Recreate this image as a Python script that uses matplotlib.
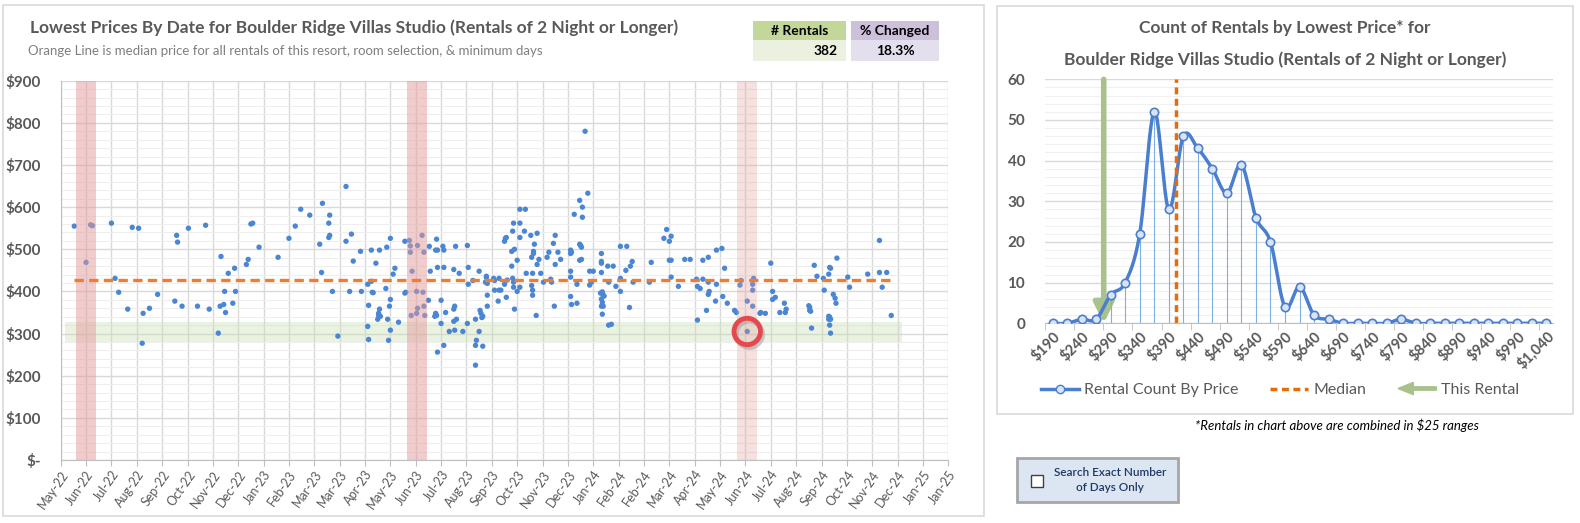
import matplotlib.pyplot as plt
import matplotlib.dates as mdates
import matplotlib.patches as mpatches
import matplotlib.transforms as mtransforms
from matplotlib.lines import Line2D
from matplotlib.legend_handler import HandlerPatch
import numpy as np
import pandas as pd

plt.rcParams['font.family'] = ['Lato', 'DejaVu Sans']

# ---- scatter: lowest price by check-in date ----
rental_dates = [
    '2022-06-10', '2022-06-30', '2022-06-28', '2022-06-23', '2022-07-21', '2022-07-25', '2022-07-29',
    '2022-08-08', '2022-08-13', '2022-08-20', '2022-08-25', '2022-09-01', '2022-08-24', '2022-09-10',
    '2022-09-29', '2022-10-01', '2022-10-02', '2022-10-07', '2022-10-14', '2022-10-24', '2022-11-02',
    '2022-11-06', '2022-11-16', '2022-11-18', '2022-11-19', '2022-11-23', '2022-11-22', '2022-11-24',
    '2022-11-27', '2022-12-02', '2022-12-04', '2022-12-05', '2022-12-17', '2022-12-19', '2022-12-22',
    '2022-12-24', '2022-12-31', '2023-01-21', '2023-02-02', '2023-02-09', '2023-02-15', '2023-02-25',
    '2023-03-11', '2023-04-06', '2023-03-19', '2023-03-18', '2023-03-19', '2023-03-18', '2023-03-08',
    '2023-03-10', '2023-03-22', '2023-03-28', '2023-04-06', '2023-04-12', '2023-04-14', '2023-04-10',
    '2023-04-22', '2023-04-23', '2023-04-30', '2023-05-04', '2023-05-01', '2023-04-30', '2023-05-01',
    '2023-05-04', '2023-05-05', '2023-05-06', '2023-05-09', '2023-05-13', '2023-05-13', '2023-05-12',
    '2023-05-12', '2023-05-14', '2023-05-11', '2023-05-22', '2023-05-20', '2023-05-21', '2023-05-25',
    '2023-05-25', '2023-05-24', '2023-05-25', '2023-05-23', '2023-05-28', '2023-05-30', '2023-06-03',
    '2023-06-10', '2023-06-10', '2023-06-11', '2023-06-15', '2023-06-16', '2023-06-16', '2023-06-18',
    '2023-06-24', '2023-06-29', '2023-07-01', '2023-06-23', '2023-06-30', '2023-06-24', '2023-06-23',
    '2023-06-17', '2023-07-01', '2023-07-02', '2023-07-07', '2023-07-08', '2023-07-06', '2023-07-15',
    '2023-07-14', '2023-07-16', '2023-07-16', '2023-07-23', '2023-07-22', '2023-07-23', '2023-07-20',
    '2023-07-14', '2023-07-15', '2023-07-13', '2023-07-20', '2023-07-16', '2023-07-23', '2023-07-25',
    '2023-07-29', '2023-08-03', '2023-08-05', '2023-08-09', '2023-08-03', '2023-08-04', '2023-08-03',
    '2023-08-06', '2023-08-04', '2023-08-13', '2023-08-18', '2023-08-19', '2023-08-18', '2023-08-24',
    '2023-08-19', '2023-08-31', '2023-08-27', '2023-08-31', '2023-08-28', '2023-08-27', '2023-09-04',
    '2023-08-27', '2023-09-01', '2023-09-02', '2023-09-04', '2023-09-03', '2023-09-08', '2023-09-08',
    '2023-09-07', '2023-09-09', '2023-09-16', '2023-09-17', '2023-09-09', '2023-09-09', '2023-09-17',
    '2023-09-21', '2023-09-22', '2023-09-22', '2023-09-24', '2023-09-28', '2023-09-30', '2023-10-01',
    '2023-10-07', '2023-10-08', '2023-10-06', '2023-10-08', '2023-10-09', '2023-10-12', '2023-10-12',
    '2023-10-15', '2023-10-06', '2023-10-09', '2023-10-07', '2023-10-08', '2023-09-28', '2023-09-29',
    '2023-09-30', '2023-10-15', '2023-10-21', '2023-10-15', '2023-10-15', '2023-10-20', '2023-10-27',
    '2023-11-03', '2023-10-31', '2023-10-30', '2023-10-30', '2023-10-28', '2023-11-05', '2023-11-03',
    '2023-10-22', '2023-10-29', '2023-11-07', '2023-10-28', '2023-10-29', '2023-10-29', '2023-11-02',
    '2023-11-10', '2023-11-14', '2023-11-16', '2023-11-18', '2023-11-19', '2023-11-21', '2023-11-23',
    '2023-11-23', '2023-11-26', '2023-11-29', '2023-11-22', '2023-12-10', '2023-12-10', '2023-12-11',
    '2023-12-10', '2023-12-10', '2023-12-10', '2023-12-11', '2023-12-17', '2023-12-17', '2023-12-14',
    '2023-12-20', '2023-12-23', '2023-12-23', '2023-12-29', '2023-12-26', '2023-12-20', '2023-12-21',
    '2023-12-22', '2023-12-20', '2023-12-22', '2023-12-31', '2024-01-04', '2024-01-02', '2023-12-31',
    '2024-01-13', '2024-01-13', '2024-01-13', '2024-01-13', '2024-01-12', '2024-01-14', '2024-01-15',
    '2024-01-16', '2024-01-13', '2024-01-14', '2024-01-13', '2024-01-15', '2024-01-14', '2024-01-21',
    '2024-01-24', '2024-01-20', '2024-01-26', '2024-01-21', '2024-01-29', '2024-02-03', '2024-02-10',
    '2024-02-03', '2024-02-03', '2024-02-09', '2024-02-14', '2024-02-16', '2024-02-17', '2024-02-13',
    '2024-03-06', '2024-03-08', '2024-03-22', '2024-03-25', '2024-03-28', '2024-03-30', '2024-03-28',
    '2024-03-30', '2024-03-30', '2024-04-07', '2024-04-14', '2024-04-20', '2024-04-27', '2024-04-28',
    '2024-05-01', '2024-05-04', '2024-05-04', '2024-05-10', '2024-05-10', '2024-05-11', '2024-05-10',
    '2024-05-08', '2024-04-28', '2024-05-19', '2024-05-25', '2024-05-19', '2024-05-28', '2024-05-26',
    '2024-05-18', '2024-05-31', '2024-06-08', '2024-06-10', '2024-06-15', '2024-06-14', '2024-06-29',
    '2024-06-28', '2024-06-28', '2024-06-22', '2024-06-28', '2024-06-22', '2024-07-06', '2024-07-07',
    '2024-07-12', '2024-07-18', '2024-07-20', '2024-07-20', '2024-07-23', '2024-07-28', '2024-08-02',
    '2024-08-04', '2024-08-03', '2024-08-30', '2024-08-30', '2024-08-31', '2024-08-29', '2024-09-01',
    '2024-09-04', '2024-09-07', '2024-09-14', '2024-09-15', '2024-09-20', '2024-09-21', '2024-09-22',
    '2024-09-29', '2024-09-25', '2024-09-27', '2024-09-28', '2024-09-20', '2024-09-21', '2024-09-20',
    '2024-09-22', '2024-09-21', '2024-09-22', '2024-10-11', '2024-10-13', '2024-11-02', '2024-11-15',
    '2024-11-15', '2024-11-18', '2024-11-23', '2024-11-28',
]
rental_prices = [
    555, 556, 558, 469, 562, 431, 398,
    358, 552, 550, 348, 360, 277, 393,
    377, 533, 517, 365, 550, 365, 557,
    358, 301, 365, 483, 400, 369, 350,
    443, 372, 455, 400, 464, 476, 560,
    562, 505, 481, 526, 555, 595, 581,
    609, 649, 581, 562, 533, 528, 512,
    445, 400, 294, 519, 536, 472, 400,
    495, 400, 417, 424, 367, 317, 286,
    498, 398, 397, 467, 498, 358, 348,
    343, 341, 334, 334, 407, 505, 526,
    381, 365, 308, 284, 441, 455, 327,
    519, 396, 398, 521, 508, 493, 448,
    509, 533, 493, 400, 398, 360, 348,
    343, 365, 343, 507, 448, 379, 524,
    498, 498, 457, 457, 507, 498, 379,
    348, 343, 341, 324, 256, 272, 350,
    305, 452, 507, 443, 358, 365, 329,
    334, 308, 305, 509, 457, 324, 426,
    417, 448, 334, 305, 284, 272, 270,
    225, 355, 348, 341, 338, 436, 433,
    422, 419, 431, 426, 391, 365, 403,
    377, 403, 431, 403, 417, 386, 427,
    431, 422, 460, 410, 358, 474, 400,
    410, 495, 500, 543, 562, 519, 526,
    528, 595, 595, 562, 528, 543, 533,
    538, 512, 495, 490, 481, 476, 464,
    443, 443, 443, 414, 403, 391, 343,
    422, 481, 493, 429, 422, 514, 533,
    464, 493, 476, 365, 498, 490, 493,
    448, 434, 388, 369, 372, 417, 583,
    616, 600, 576, 633, 780, 512, 509,
    505, 474, 476, 448, 448, 422, 415,
    490, 471, 467, 445, 396, 399, 392,
    389, 382, 374, 365, 365, 346, 320,
    322, 460, 460, 422, 412, 507, 507,
    431, 400, 450, 460, 471, 422, 362,
    422, 469, 526, 547, 519, 531, 474,
    474, 434, 412, 476, 476, 429, 412,
    407, 474, 429, 481, 422, 400, 393,
    355, 332, 498, 502, 417, 455, 388,
    377, 372, 355, 350, 426, 415, 431,
    417, 403, 377, 365, 305, 348, 350,
    348, 467, 400, 381, 386, 350, 372,
    358, 350, 362, 355, 353, 366, 313,
    462, 436, 431, 403, 441, 457, 455,
    479, 393, 384, 372, 341, 339, 334,
    334, 320, 301, 434, 410, 441, 521,
    445, 410, 445, 343,
]

median_price = 428
this_rental_date = '2024-06-22'
this_rental_price = 305
price_band = (280, 327)
same_dates_start = ['2022-06-12', '2023-06-12', '2024-06-11']
same_dates_end = ['2022-07-04', '2023-07-04', '2024-07-03']
rental_count = '382'
pct_changed = '18.3%'

# ---- histogram: count of rentals per $25 price range ----
bin_prices = [190, 215, 240, 265, 290, 315, 340, 365, 390, 415, 440, 465,
              490, 515, 540, 565, 590, 615, 640, 665, 690, 715, 740, 765,
              790, 815, 840, 865, 890, 915, 940, 965, 990, 1015, 1040]
bin_counts = [0, 0, 1, 1, 7, 10, 22, 52, 28, 46, 43, 38,
              32, 39, 26, 20, 4, 9, 2, 1, 0, 0, 0, 0,
              1, 0, 0, 0, 0, 0, 0, 0, 0, 0, 0]
bin_width = 25

W, H = 1580, 523
fig = plt.figure(figsize=(W / 100, H / 100), dpi=100)
fig.patch.set_facecolor('white')


def fx(x):
    return x / W


def fy(y):
    return 1 - y / H


def frame(x0, y0, x1, y1, **kw):
    r = mpatches.Rectangle((fx(x0), fy(y1)), fx(x1) - fx(x0), fy(y0) - fy(y1),
                           transform=fig.transFigure, **kw)
    fig.patches.append(r)


GRAY = '#595959'
BLUE = '#4a86d4'

# panels
frame(3, 5, 984, 516, fill=False, ec='#d9d9d9', lw=1.2)
frame(997, 6, 1573, 414, fill=False, ec='#d9d9d9', lw=1.2)

# ================= left chart =================
dates = pd.to_datetime(rental_dates)
ax1 = fig.add_axes([fx(60.7), fy(460), fx(948.3) - fx(60.7), fy(80.7) - fy(460)])
ax1.set_facecolor('none')

ticks = pd.date_range('2022-05-26', periods=36, freq='28D')
ax1.set_xlim(ticks[0], ticks[-1])
ax1.set_ylim(0, 900)
ax1.set_xticks(ticks)
ax1.xaxis.set_major_formatter(mdates.DateFormatter('%b-%y'))
ax1.set_yticks(np.arange(0, 901, 100))
ax1.set_yticks(np.arange(0, 901, 20), minor=True)
ax1.set_yticklabels(['$-' if v == 0 else f'${v}' for v in range(0, 901, 100)])
ax1.grid(which='major', color='#d9d9d9', lw=1, zorder=0)
ax1.grid(which='minor', axis='y', color='#eeeeee', lw=0.8, zorder=0)
ax1.set_axisbelow(True)
for s in ['top', 'right']:
    ax1.spines[s].set_visible(False)
for s in ['left', 'bottom']:
    ax1.spines[s].set_color('#bfbfbf')
ax1.tick_params(axis='y', which='both', length=0, pad=14, labelsize=11, labelcolor=GRAY)
ax1.tick_params(axis='x', length=4, color='#bfbfbf', labelsize=9, labelcolor=GRAY, pad=2)
for lab in ax1.get_yticklabels():
    lab.set_fontweight('bold')
plt.setp(ax1.get_xticklabels(), rotation=55, ha='right', rotation_mode='anchor')

first, last = dates.min(), dates.max()
ax1.fill_between([first - pd.Timedelta(days=10), last + pd.Timedelta(days=12)],
                 price_band[0], price_band[1], color='#c5dcae', alpha=0.35, lw=0, zorder=1)
ax1.scatter(dates, rental_prices, s=15, color=BLUE, edgecolors='none', zorder=3)
ax1.plot([first, last], [median_price, median_price], color='#ed7d31', lw=2.4,
         ls=(0, (2.8, 1.6)), zorder=5)
for i, (a, b) in enumerate(zip(same_dates_start, same_dates_end)):
    ax1.axvspan(pd.Timestamp(a), pd.Timestamp(b), color='#e39b9b',
                alpha=0.5 if i < 2 else 0.3, lw=0, zorder=4)

tr = pd.Timestamp(this_rental_date)
shadow = mtransforms.offset_copy(ax1.transData, fig=fig, x=1.5, y=-2, units='points')
ax1.scatter([tr], [this_rental_price], s=360, facecolors='none', edgecolors='#999999',
            linewidths=3.5, alpha=0.5, transform=shadow, zorder=6)
ax1.scatter([tr], [this_rental_price], s=360, facecolors='none', edgecolors='#e5484d',
            linewidths=3.5, zorder=7)

fig.text(fx(30), fy(28), 'Lowest Prices By Date for Boulder Ridge Villas Studio '
         '(Rentals of 2 Night or Longer)', fontsize=12.5, fontweight='bold', color=GRAY,
         va='center')
fig.text(fx(28), fy(51), 'Orange Line is median price for all rentals of this resort, '
         'room selection, & minimum days', fontsize=9.5, color='#7f7f7f', va='center')

# summary boxes
frame(753, 21, 846, 40, color='#c4d79b', lw=0)
frame(753, 40, 846, 61, color='#ebf1de', lw=0)
frame(851, 21, 939, 40, color='#ccc0da', lw=0)
frame(851, 40, 939, 61, color='#e4dfec', lw=0)
fig.text(fx(799.5), fy(31), '# Rentals', ha='center', va='center', fontsize=10,
         fontweight='bold', color='black')
fig.text(fx(895), fy(31), '% Changed', ha='center', va='center', fontsize=10,
         fontweight='bold', color='black')
fig.text(fx(838), fy(51), rental_count, ha='right', va='center', fontsize=10,
         fontweight='bold', color='black')
fig.text(fx(895), fy(51), pct_changed, ha='center', va='center', fontsize=10,
         fontweight='bold', color='black')

# ================= right chart =================
ax2 = fig.add_axes([fx(1044.6), fy(323.3), fx(1553) - fx(1044.6), fy(79.3) - fy(323.3)])
ax2.set_facecolor('none')
idx = np.arange(len(bin_prices))
counts = np.array(bin_counts, dtype=float)


def smooth(xs, ys, sx, sy, n=24):
    # Excel-style smoothed line (Catmull-Rom bezier) in screen proportions
    p = np.column_stack([xs * sx, ys * sy])
    out = [p[0]]
    t = np.linspace(0, 1, n)[1:, None]
    for i in range(len(p) - 1):
        p0 = p[max(i - 1, 0)]
        p1, p2 = p[i], p[i + 1]
        p3 = p[min(i + 2, len(p) - 1)]
        c1 = p1 + (p2 - p0) / 6
        c2 = p2 - (p3 - p1) / 6
        seg = ((1 - t) ** 3) * p1 + 3 * ((1 - t) ** 2) * t * c1 + 3 * (1 - t) * t ** 2 * c2 + t ** 3 * p2
        out.extend(seg)
    out = np.array(out)
    return out[:, 0] / sx, out[:, 1] / sy


LINE = '#4a7fcf'
sx_, sy_ = smooth(idx.astype(float), counts, 14.53, 244 / 60)
ax2.vlines(idx, 0, counts, color='#7fb0e3', lw=0.8, zorder=3)
ax2.plot(sx_, sy_, color=LINE, lw=2.5, zorder=4, solid_capstyle='round')
ax2.plot(idx, counts, 'o', ms=6, mfc='#dae3f3', mec=LINE, mew=1.2, zorder=5)

med_pos = (median_price - bin_prices[0]) / bin_width - 1
this_pos = (this_rental_price - bin_prices[0]) / bin_width - 1.08
ax2.plot([med_pos, med_pos], [0, 60], color='#e46c0a', lw=2.5, ls=(0, (2, 1.3)), zorder=6)
ax2.annotate('', xy=(this_pos, 0), xytext=(this_pos, 60),
             arrowprops=dict(arrowstyle='-|>,head_length=1.2,head_width=0.6',
                             color='#a9c18b', lw=4, shrinkA=0, shrinkB=0), zorder=2)

ax2.set_xlim(-0.55, 34.45)
ax2.set_ylim(0, 60)
ax2.set_yticks(np.arange(0, 61, 10))
ax2.set_yticks(np.arange(0, 61, 2), minor=True)
ax2.grid(which='major', axis='y', color='#d9d9d9', lw=1)
ax2.grid(which='minor', axis='y', color='#f0f0f0', lw=0.8)
ax2.set_axisbelow(True)
ax2.set_xticks(idx[::2])
ax2.set_xticklabels([f'${v:,}' for v in bin_prices[::2]])
ax2.set_xticks(np.arange(-0.5, 35, 2), minor=True)
for s in ['top', 'right', 'left']:
    ax2.spines[s].set_visible(False)
ax2.spines['bottom'].set_color('#bfbfbf')
ax2.tick_params(axis='x', which='major', length=0, labelsize=10.5, labelcolor=GRAY, pad=4)
ax2.tick_params(axis='x', which='minor', length=5, color='#bfbfbf')
ax2.tick_params(axis='y', which='both', length=0, labelsize=11, labelcolor=GRAY, pad=14)
for lab in ax2.get_xticklabels() + ax2.get_yticklabels():
    lab.set_fontweight('bold')
plt.setp(ax2.get_xticklabels(), rotation=45, ha='right', rotation_mode='anchor')

fig.text(fx(1285), fy(28), 'Count of Rentals by Lowest Price* for', ha='center', va='center',
         fontsize=12.5, fontweight='bold', color=GRAY)
fig.text(fx(1285), fy(60), 'Boulder Ridge Villas Studio (Rentals of 2 Night or Longer)',
         ha='center', va='center', fontsize=12.5, fontweight='bold', color=GRAY)


def make_arrow(legend, orig_handle, xdescent, ydescent, width, height, fontsize):
    return mpatches.FancyArrow(width, height / 2, -width, 0, width=height * 0.3,
                               head_width=height * 1.1, head_length=width * 0.4,
                               length_includes_head=True)


handles = [
    Line2D([], [], color=LINE, lw=2.5, marker='o', ms=6, mfc='#dae3f3', mec=LINE),
    Line2D([], [], color='#e46c0a', lw=2.5, ls=(0, (2, 1.3))),
    mpatches.FancyArrow(0, 0, 1, 0, color='#a9c18b'),
]
ax2.legend(handles, ['Rental Count By Price', 'Median', 'This Rental'],
           handler_map={mpatches.FancyArrow: HandlerPatch(patch_func=make_arrow)},
           loc='center', bbox_to_anchor=(fx(1280), fy(390)), bbox_transform=fig.transFigure,
           ncol=3, frameon=False, fontsize=11.5, labelcolor=GRAY, handlelength=2.4,
           columnspacing=2.0, handletextpad=0.3)

fig.text(fx(1337), fy(425), '*Rentals in chart above are combined in $25 ranges',
         ha='center', va='center', fontsize=9.5, style='italic', color='black')

# checkbox button
frame(1017, 458, 1178, 502, facecolor='#dce6f2', edgecolor='#a6a6a6', lw=2)
frame(1031, 475, 1043, 487, facecolor='white', edgecolor='#404040', lw=1)
fig.text(fx(1110), fy(480), 'Search Exact Number\nof Days Only', ha='center', va='center',
         fontsize=8.5, fontweight='semibold', color='#1f3864', linespacing=1.5)

fig.savefig('out.png', dpi=100)
